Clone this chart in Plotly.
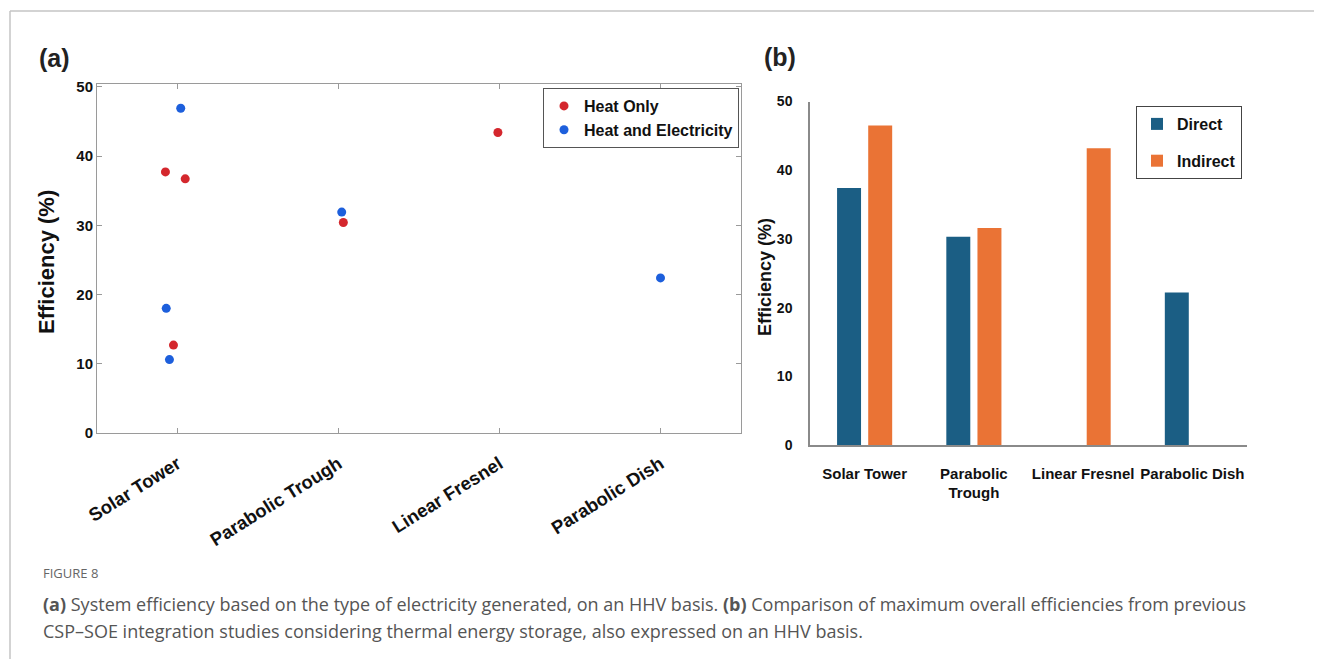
import plotly.graph_objects as go

# ---------------- data ----------------
categories = ["Solar Tower", "Parabolic Trough", "Linear Fresnel", "Parabolic Dish"]

# panel (a): scatter points (category, efficiency, horizontal jitter)
heat_only_cat = ["Solar Tower", "Solar Tower", "Solar Tower", "Parabolic Trough", "Linear Fresnel"]
heat_only_val = [37.7, 36.7, 12.7, 30.4, 43.4]
heat_only_jit = [-0.075, 0.048, -0.025, 0.03, -0.01]

heat_elec_cat = ["Solar Tower", "Solar Tower", "Solar Tower", "Parabolic Trough", "Parabolic Dish"]
heat_elec_val = [46.9, 18.0, 10.6, 31.9, 22.4]
heat_elec_jit = [0.02, -0.07, -0.05, 0.02, 0.0]

# panel (b): bars
bar_labels = ["Solar Tower", "Parabolic<br>Trough", "Linear Fresnel", "Parabolic Dish"]
direct_val = [37.4, 30.3, None, 22.2]
indirect_val = [46.5, 31.6, 43.2, None]

y_ticks = [0, 10, 20, 30, 40, 50]

# ---------------- layout helpers ----------------
OFF = 8                      # page body margin
W, H = 1322 - OFF, 659 - OFF
def px(x):
    return (x - OFF) / W
def py(y):
    return 1 - (y - OFF) / H

ARIAL = "Liberation Sans, Arial, sans-serif"
CAP = "Open Sans, Noto Sans, sans-serif"
RED = "#d4272d"
BLUE = "#1d5fdc"
DIRECT = "#1b5e84"
INDIRECT = "#ea7335"

cat_index = {c: i + 1 for i, c in enumerate(categories)}

fig = go.Figure()

fig.add_trace(go.Scatter(
    x=[cat_index[c] + j for c, j in zip(heat_only_cat, heat_only_jit)],
    y=heat_only_val, mode="markers", name="Heat Only",
    marker=dict(color=RED, size=9), xaxis="x", yaxis="y", legend="legend",
))
fig.add_trace(go.Scatter(
    x=[cat_index[c] + j for c, j in zip(heat_elec_cat, heat_elec_jit)],
    y=heat_elec_val, mode="markers", name="Heat and Electricity",
    marker=dict(color=BLUE, size=9), xaxis="x", yaxis="y", legend="legend",
))

fig.add_trace(go.Bar(
    x=bar_labels, y=direct_val, name="Direct", marker=dict(color=DIRECT, line_width=0),
    xaxis="x2", yaxis="y2", legend="legend2", legendgroup="d",
))
fig.add_trace(go.Bar(
    x=bar_labels, y=indirect_val, name="Indirect", marker=dict(color=INDIRECT, line_width=0),
    xaxis="x2", yaxis="y2", legend="legend2", legendgroup="i",
))

AXC = "#9a9a9a"

fig.update_layout(
    width=W, height=H,
    margin=dict(l=0, r=0, t=0, b=0, autoexpand=False),
    paper_bgcolor="white", plot_bgcolor="white",
    showlegend=True,
    barmode="group", bargap=0.43, bargroupgap=0.23,
    xaxis=dict(
        domain=[px(97), px(741)], range=[0.5, 4.5],
        tickvals=[1, 2, 3, 4], ticktext=categories, tickangle=-32,
        tickfont=dict(family=ARIAL, size=18.5, color="#111", weight="bold"),
        showline=True, linecolor=AXC, linewidth=1, mirror="ticks",
        ticks="inside", ticklen=5, tickcolor=AXC,
        showgrid=False, zeroline=False, anchor="y", automargin=False,
        ticklabelstandoff=12,
    ),
    yaxis=dict(
        domain=[py(433), py(84)], range=[0, 50.4],
        tickvals=y_ticks,
        tickfont=dict(family=ARIAL, size=15, color="#111", weight="bold"),
        showline=True, linecolor=AXC, linewidth=1, mirror="ticks",
        ticks="inside", ticklen=5, tickcolor=AXC,
        showgrid=False, zeroline=False, anchor="x", automargin=False,
    ),
    xaxis2=dict(
        domain=[px(810), px(1247)], range=[-0.5, 3.5], tickangle=0,
        tickfont=dict(family=ARIAL, size=15, color="#111", weight="bold"),
        showline=True, linecolor="#8a8a8a", linewidth=1.5,
        ticks="", showgrid=False, zeroline=False, anchor="y2", automargin=False,
        ticklabelstandoff=14,
    ),
    yaxis2=dict(
        domain=[py(445), py(101.5)], range=[0, 50],
        tickvals=y_ticks,
        tickfont=dict(family=ARIAL, size=14, color="#111", weight="bold"),
        showline=True, linecolor="#8a8a8a", linewidth=1.5,
        ticks="", showgrid=False, zeroline=False, anchor="x2", automargin=False,
        ticklabelstandoff=13,
    ),
    legend=dict(
        x=px(739), y=py(88), xanchor="right", yanchor="top",
        bgcolor="white", bordercolor="#555", borderwidth=1,
        font=dict(family=ARIAL, size=16, color="#111", weight="bold"),
        itemwidth=30, tracegroupgap=0,
    ),
    legend2=dict(
        x=px(1242), y=py(106), xanchor="right", yanchor="top",
        bgcolor="white", bordercolor="#444", borderwidth=1,
        font=dict(family=ARIAL, size=16, color="#111", weight="bold"),
        itemwidth=30, tracegroupgap=13,
    ),
)

ann = [
    dict(text="<b>(a)</b>", x=px(37), y=py(58), xanchor="left", yanchor="middle",
         font=dict(family=ARIAL, size=25, color="#222")),
    dict(text="<b>(b)</b>", x=px(762), y=py(57), xanchor="left", yanchor="middle",
         font=dict(family=ARIAL, size=25, color="#222")),
    dict(text="<b>Efficiency (%)</b>", x=px(47), y=py(262), textangle=-90,
         xanchor="center", yanchor="middle",
         font=dict(family=ARIAL, size=22, color="#111")),
    dict(text="<b>Efficiency (%)</b>", x=px(765), y=py(277), textangle=-90,
         xanchor="center", yanchor="middle",
         font=dict(family=ARIAL, size=18, color="#111")),
    dict(text="FIGURE 8", x=px(41), y=py(573), xanchor="left", yanchor="middle",
         font=dict(family=CAP, size=13, color="#666")),
    dict(text="<b>(a)</b> System efficiency based on the type of electricity generated, on an HHV basis. "
              "<b>(b)</b> Comparison of maximum overall efficiencies from previous",
         x=px(41), y=py(604), xanchor="left", yanchor="middle",
         font=dict(family=CAP, size=18, color="#555")),
    dict(text="CSP–SOE integration studies considering thermal energy storage, also expressed on an HHV basis.",
         x=px(41), y=py(631), xanchor="left", yanchor="middle",
         font=dict(family=CAP, size=18, color="#555")),
]
for a in ann:
    a.update(xref="paper", yref="paper", showarrow=False)
fig.update_layout(annotations=ann)

fig.update_layout(shapes=[
    dict(type="line", xref="paper", yref="paper", x0=px(10), x1=1, y0=py(11), y1=py(11),
         line=dict(color="#c4c4c4", width=1.5)),
    dict(type="line", xref="paper", yref="paper", x0=px(10), x1=px(10), y0=py(11), y1=0,
         line=dict(color="#c4c4c4", width=1.5)),
])

fig.write_html("out.html")
